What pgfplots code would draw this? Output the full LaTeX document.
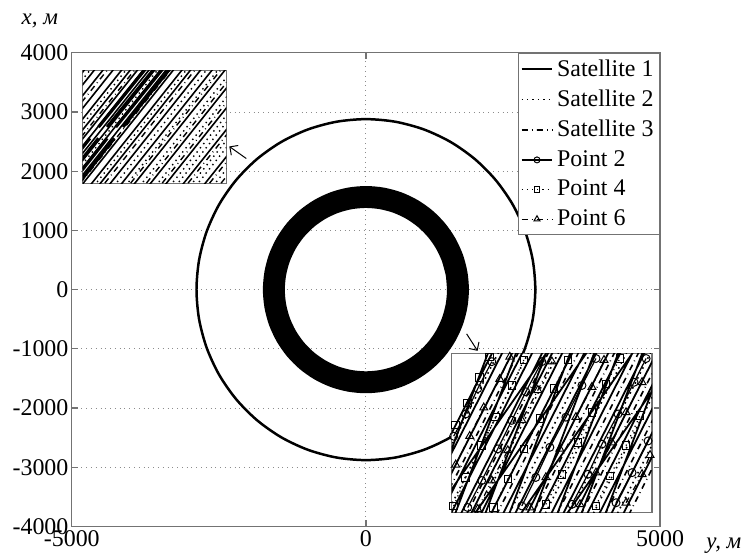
\documentclass[border=0pt]{standalone}
\usepackage{fontspec}
\setmainfont{Liberation Serif}
\usepackage{pgfplots}
\pgfplotsset{compat=1.18}
\usetikzlibrary{arrows.meta}

\begin{document}
\begin{tikzpicture}
\pgfplotsset{
  sat1/.style={black, solid, line width=0.8pt},
  sat2/.style={black, dotted, line width=0.7pt},
  sat3/.style={black, dash dot, line width=0.7pt},
  pt2/.style={black, solid, line width=0.6pt, mark=o, mark size=1.5pt, mark options={solid, fill=white, line width=0.5pt}},
  pt4/.style={black, dotted, line width=0.6pt, mark=square, mark size=1.4pt, mark options={solid, fill=white, line width=0.5pt}},
  pt6/.style={black, dash dot, line width=0.6pt, mark=triangle, mark size=1.7pt, mark options={solid, fill=white, line width=0.5pt}},
  inset/.style={scale only axis, xmin=0, xmax=1, ymin=0, ymax=1,
    xtick=\empty, ytick=\empty, axis line style={black!55, line width=0.6pt},
    axis background/.style={fill=white}, clip=true, unbounded coords=jump},
}
\begin{axis}[
  name=main,
  scale only axis,
  width=295pt, height=237.5pt,
  xmin=-5000, xmax=5000, ymin=-4000, ymax=4000,
  xtick={-5000,0,5000},
  ytick={-4000,-3000,-2000,-1000,0,1000,2000,3000,4000},
  grid=major,
  grid style={dotted, black!45, line width=0.5pt},
  tick align=inside, tick pos=both,
  xticklabel pos=left, yticklabel pos=left,
  major tick length=3pt,
  axis line style={black!55, line width=0.6pt},
  tick style={black!55, line width=0.6pt},
  scaled ticks=false,
  /pgf/number format/1000 sep={},
  /pgf/number format/assume math mode=true,
  ticklabel style={font=\fontsize{12}{14}\selectfont},
  yticklabel style={inner xsep=1.5pt},
  xticklabel style={inner ysep=2pt},
  legend style={at={(1,1)}, anchor=north east, draw=black!55, line width=0.6pt,
    font=\fontsize{12}{14}\selectfont, inner sep=1pt, row sep=1.4pt},
  legend cell align=left,
  legend image code/.code={
    \draw[mark repeat=2, mark phase=2] plot coordinates {(0cm,0cm) (0.27cm,0cm) (0.54cm,0cm)};
  },
]
\addlegendimage{sat1}
\addlegendimage{sat2}
\addlegendimage{sat3}
\addlegendimage{pt2}
\addlegendimage{pt4}
\addlegendimage{pt6}
% outer orbit (starts under the zoom window)
\addplot[black, line width=1.25pt, smooth, forget plot] coordinates {
 (2206,-1851) (2494,-1440) (2706,-985) (2836,-500) (2880,0) (2836,500) (2706,985) (2494,1440) (2206,1851)
 (1851,2206) (1440,2494) (985,2706) (500,2836) (0,2880) (-500,2836) (-985,2706) (-1440,2494) (-1851,2206)
 (-2206,1851) (-2494,1440) (-2706,985) (-2836,500) (-2880,0) (-2836,-500) (-2706,-985) (-2494,-1440)
 (-2206,-1851) (-1851,-2206) (-1440,-2494) (-985,-2706) (-500,-2836) (0,-2880) (500,-2836) (985,-2706)
 (1440,-2494) (1851,-2206) (2206,-1851)
};
% dense ring of trajectories (mean radius 1565 m, width about 370 m)
\addplot[black, line width=11pt, smooth, forget plot] coordinates {
 (1565,0) (1541,272) (1471,535) (1355,783) (1199,1006) (1006,1199) (783,1355) (535,1471) (272,1541) (0,1565)
 (-272,1541) (-535,1471) (-783,1355) (-1006,1199) (-1199,1006) (-1355,783) (-1471,535) (-1541,272) (-1565,0)
 (-1541,-272) (-1471,-535) (-1355,-783) (-1199,-1006) (-1006,-1199) (-783,-1355) (-535,-1471) (-272,-1541) (0,-1565)
 (272,-1541) (535,-1471) (783,-1355) (1006,-1199) (1199,-1006) (1355,-783) (1471,-535) (1541,-272) (1565,0)
 (1541,272) (1471,535)
};
\legend{Satellite 1, Satellite 2, Satellite 3, Point 2, Point 4, Point 6}
\draw[-{Straight Barb[length=3pt]}, line width=0.5pt] (axis cs:-2034,2215) -- (axis cs:-2322,2418);
\draw[-{Straight Barb[length=3pt]}, line width=0.5pt] (axis cs:1712,-747) -- (axis cs:1898,-1034);
\coordinate (A) at (axis cs:-4814,1795);
\coordinate (B) at (axis cs:1458,-3761);
\end{axis}

\node[font=\itshape\fontsize{11.5}{12}\selectfont] at ([xshift=-16pt, yshift=16pt]main.north west) {x, м};
\node[font=\itshape\fontsize{11.5}{12}\selectfont] at ([xshift=32pt, yshift=-9.5pt]main.south east) {y, м};

% zoom of the ring
\begin{axis}[inset, at={(A)}, anchor=south west, width=72pt, height=56.5pt]
\addplot[sat1] coordinates {
 (-0.68,-0.1) (0.07,1.1) (nan,nan) (-0.61,-0.1) (0.14,1.1) (nan,nan)
 (-0.55,-0.1) (0.20,1.1) (nan,nan) (-0.48,-0.1) (0.27,1.1) (nan,nan)
 (-0.42,-0.1) (0.33,1.1) (nan,nan) (-0.36,-0.1) (0.39,1.1) (nan,nan)
 (-0.31,-0.1) (0.44,1.1) (nan,nan) (-0.27,-0.1) (0.48,1.1) (nan,nan)
 (-0.23,-0.1) (0.52,1.1) (nan,nan) (-0.19,-0.1) (0.56,1.1) (nan,nan)
 (-0.15,-0.1) (0.60,1.1) (nan,nan) (-0.11,-0.1) (0.64,1.1) (nan,nan)
 (-0.06,-0.1) (0.69,1.1) (nan,nan) (0.00,-0.1) (0.75,1.1) (nan,nan)
 (0.06,-0.1) (0.81,1.1) (nan,nan) (0.13,-0.1) (0.88,1.1) (nan,nan)
 (0.21,-0.1) (0.96,1.1) (nan,nan) (0.30,-0.1) (1.05,1.1) (nan,nan)
 (0.41,-0.1) (1.16,1.1) (nan,nan) (0.52,-0.1) (1.27,1.1) (nan,nan)
 (0.64,-0.1) (1.39,1.1) (nan,nan) (0.79,-0.1) (1.54,1.1)
};
\addplot[black, solid, line width=1.6pt] coordinates {
 (0.11,0.5) (0.49,1.1) (nan,nan) (0.17,0.5) (0.55,1.1) (nan,nan)
 (0.23,0.5) (0.61,1.1) (nan,nan) (0.28,0.5) (0.66,1.1) (nan,nan)
 (-0.26,-0.1) (0.05,0.4) (nan,nan) (-0.20,-0.1) (0.11,0.4) (nan,nan)
 (-0.14,-0.1) (0.17,0.4) (nan,nan) (-0.09,-0.1) (0.22,0.4)
};
\addplot[sat2] coordinates {
 (-0.64,-0.1) (0.11,1.1) (nan,nan) (-0.39,-0.1) (0.36,1.1) (nan,nan)
 (-0.17,-0.1) (0.58,1.1) (nan,nan) (0.03,-0.1) (0.78,1.1) (nan,nan)
 (0.17,-0.1) (0.92,1.1) (nan,nan) (0.25,-0.1) (1.00,1.1) (nan,nan)
 (0.35,-0.1) (1.10,1.1) (nan,nan) (0.46,-0.1) (1.21,1.1) (nan,nan)
 (0.56,-0.1) (1.31,1.1) (nan,nan) (0.60,-0.1) (1.35,1.1) (nan,nan)
 (0.70,-0.1) (1.45,1.1) (nan,nan) (0.74,-0.1) (1.49,1.1) (nan,nan)
 (0.86,-0.1) (1.61,1.1)
};
\addplot[sat3] coordinates {
 (-0.52,-0.1) (0.23,1.1) (nan,nan) (-0.33,-0.1) (0.42,1.1) (nan,nan)
 (-0.08,-0.1) (0.67,1.1) (nan,nan) (0.09,-0.1) (0.84,1.1) (nan,nan)
 (0.27,-0.1) (1.02,1.1) (nan,nan) (0.38,-0.1) (1.13,1.1) (nan,nan)
 (0.49,-0.1) (1.24,1.1) (nan,nan) (0.67,-0.1) (1.42,1.1) (nan,nan)
 (0.82,-0.1) (1.57,1.1) (nan,nan) (0.90,-0.1) (1.65,1.1)
};
\end{axis}

% zoom of the points
\begin{axis}[inset, at={(B)}, anchor=south west, width=100.5pt, height=79.5pt,
  pt2/.append style={mark size=2pt}, pt4/.append style={mark size=1.9pt},
  pt6/.append style={mark size=2.3pt}]
\addplot[sat1, line width=0.9pt] coordinates {
 (-0.24,-0.1) (0.24,1.1) (nan,nan) (-0.19,-0.1) (0.29,1.1) (nan,nan)
 (-0.14,-0.1) (0.34,1.1) (nan,nan) (-0.09,-0.1) (0.39,1.1) (nan,nan)
 (-0.04,-0.1) (0.44,1.1) (nan,nan) (0.01,-0.1) (0.49,1.1) (nan,nan)
 (0.06,-0.1) (0.54,1.1) (nan,nan) (0.11,-0.1) (0.59,1.1) (nan,nan)
 (0.16,-0.1) (0.64,1.1) (nan,nan) (0.22,-0.1) (0.70,1.1) (nan,nan)
 (0.28,-0.1) (0.76,1.1) (nan,nan) (0.34,-0.1) (0.82,1.1) (nan,nan)
 (0.40,-0.1) (0.88,1.1) (nan,nan) (0.46,-0.1) (0.94,1.1) (nan,nan)
 (0.52,-0.1) (1.00,1.1) (nan,nan) (0.58,-0.1) (1.06,1.1) (nan,nan)
 (0.64,-0.1) (1.12,1.1) (nan,nan) (0.70,-0.1) (1.18,1.1) (nan,nan)
 (0.76,-0.1) (1.24,1.1) (nan,nan) (0.82,-0.1) (1.30,1.1) (nan,nan)
 (-0.15,-0.1) (0.21,1.1) (nan,nan) (-0.01,-0.1) (0.35,1.1) (nan,nan)
 (0.14,-0.1) (0.50,1.1) (nan,nan) (0.26,-0.1) (0.62,1.1) (nan,nan)
 (0.38,-0.1) (0.74,1.1) (nan,nan) (0.50,-0.1) (0.86,1.1) (nan,nan)
 (0.62,-0.1) (0.98,1.1) (nan,nan) (0.74,-0.1) (1.10,1.1) (nan,nan)
 (-0.135,-0.1) (0.525,1.1) (nan,nan) (0.065,-0.1) (0.725,1.1) (nan,nan)
 (0.295,-0.1) (0.955,1.1) (nan,nan) (0.525,-0.1) (1.185,1.1)
};
\addplot[sat2, line width=0.8pt] coordinates {
 (-0.21,-0.1) (0.27,1.1) (nan,nan) (-0.06,-0.1) (0.42,1.1) (nan,nan)
 (0.09,-0.1) (0.57,1.1) (nan,nan) (0.25,-0.1) (0.73,1.1) (nan,nan)
 (0.43,-0.1) (0.91,1.1) (nan,nan) (0.55,-0.1) (1.03,1.1) (nan,nan)
 (0.67,-0.1) (1.15,1.1) (nan,nan) (0.79,-0.1) (1.27,1.1)
};
\addplot[sat3, line width=0.8pt] coordinates {
 (-0.11,-0.1) (0.37,1.1) (nan,nan) (0.04,-0.1) (0.52,1.1) (nan,nan)
 (0.19,-0.1) (0.67,1.1) (nan,nan) (0.37,-0.1) (0.85,1.1) (nan,nan)
 (0.49,-0.1) (0.97,1.1) (nan,nan) (0.61,-0.1) (1.09,1.1) (nan,nan)
 (0.73,-0.1) (1.21,1.1) (nan,nan) (0.85,-0.1) (1.33,1.1)
};
\addplot[pt2] coordinates {
 (0.01,0.48) (0.07,0.62) (0.13,0.78) (0.20,0.95) (nan,nan)
 (0.08,0.03) (0.15,0.20) (0.23,0.40) (0.30,0.58) (0.37,0.76) (0.45,0.95) (nan,nan)
 (0.35,0.04) (0.42,0.22) (0.49,0.41) (0.57,0.60) (0.65,0.80) (0.72,0.97) (nan,nan)
 (0.60,0.05) (0.68,0.24) (0.75,0.43) (0.83,0.62) (0.91,0.82) (0.97,0.97) (nan,nan)
 (0.82,0.06) (0.90,0.25) (0.98,0.45)
};
\addplot[pt4] coordinates {
 (0.02,0.55) (0.08,0.69) (0.14,0.85) (0.19,0.98) (nan,nan)
 (0.01,0.04) (0.07,0.22) (0.15,0.42) (0.22,0.60) (0.30,0.80) (0.36,0.96) (nan,nan)
 (0.21,0.03) (0.28,0.21) (0.36,0.40) (0.44,0.59) (0.51,0.78) (0.58,0.96) (nan,nan)
 (0.47,0.05) (0.55,0.24) (0.63,0.44) (0.70,0.63) (0.77,0.81) (0.84,0.97) (nan,nan)
 (0.72,0.04) (0.79,0.23) (0.87,0.42) (0.94,0.61)
};
\addplot[pt6] coordinates {
 (0.02,0.30) (0.09,0.48) (0.16,0.66) (0.24,0.84) (0.29,0.98) (nan,nan)
 (0.13,0.02) (0.20,0.20) (0.28,0.39) (0.35,0.58) (0.43,0.77) (0.50,0.95) (nan,nan)
 (0.39,0.03) (0.47,0.22) (0.54,0.40) (0.62,0.60) (0.70,0.79) (0.76,0.96) (nan,nan)
 (0.64,0.05) (0.72,0.25) (0.80,0.44) (0.87,0.63) (0.95,0.82) (nan,nan)
 (0.87,0.06) (0.95,0.24) (0.99,0.36)
};
\end{axis}

\path ([xshift=-36pt, yshift=-14.5pt]main.south west) rectangle ([xshift=43pt, yshift=26.5pt]main.north east);
\end{tikzpicture}
\end{document}
